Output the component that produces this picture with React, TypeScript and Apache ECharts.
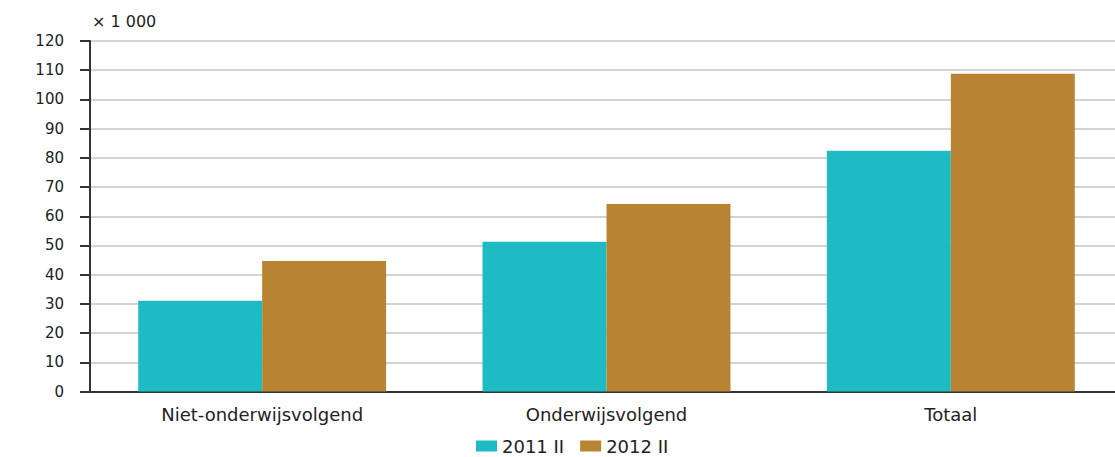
import React, { useEffect, useRef } from "react";
import * as echarts from "echarts";

const categories = ["Niet-onderwijsvolgend", "Onderwijsvolgend", "Totaal"];
const series2011 = [31.1, 51.3, 82.4];
const series2012 = [44.7, 64.2, 108.8];
const seriesNames = ["2011 II", "2012 II"];
const unitLabel = "× 1 000";

export default function App() {
  const ref = useRef<HTMLDivElement>(null);
  useEffect(() => {
    if (!ref.current) return;
    const chart = echarts.init(ref.current, undefined, { renderer: "svg" });
    const font = "DejaVu Sans";
    chart.setOption({
      animation: false,
      backgroundColor: "#ffffff",
      textStyle: { fontFamily: font, color: "#222" },
      grid: { left: 90, right: 0, top: 41, bottom: 65.5, containLabel: false },
      legend: {
        data: seriesNames,
        top: 432,
        left: 471,
        itemWidth: 21,
        itemHeight: 11,
        itemGap: 16,
        icon: "rect",
        textStyle: { fontFamily: font, fontSize: 18, color: "#222" },
      },
      xAxis: {
        type: "category",
        data: categories,
        axisLine: { show: true, lineStyle: { color: "#333", width: 2 } },
        axisTick: { show: false },
        axisLabel: { fontFamily: font, fontSize: 18, color: "#222", margin: 14 },
      },
      yAxis: {
        type: "value",
        min: 0,
        max: 120,
        interval: 10,
        name: unitLabel,
        nameLocation: "end",
        nameGap: 12,
        nameTextStyle: { fontFamily: font, fontSize: 16, color: "#222", align: "left", padding: [0, 0, 0, 2] },
        axisLine: { show: true, lineStyle: { color: "#333", width: 2 } },
        axisTick: { show: true, length: 10, lineStyle: { color: "#333", width: 2 } },
        axisLabel: { fontFamily: font, fontSize: 15, color: "#222", margin: 26 },
        splitLine: { show: true, lineStyle: { color: "#c4c4c4", width: 1.5 } },
      },
      series: [
        {
          name: seriesNames[0],
          type: "bar",
          data: series2011,
          barWidth: "36%",
          barGap: "0%",
          itemStyle: { color: "#1fbbc4" },
        },
        {
          name: seriesNames[1],
          type: "bar",
          data: series2012,
          barWidth: "36%",
          barGap: "0%",
          itemStyle: { color: "#b98431" },
        },
      ],
    });
    return () => chart.dispose();
  }, []);
  return (
    <div
      ref={ref}
      style={{ position: "fixed", left: 0, top: 0, width: 1123, height: 457 }}
    />
  );
}
